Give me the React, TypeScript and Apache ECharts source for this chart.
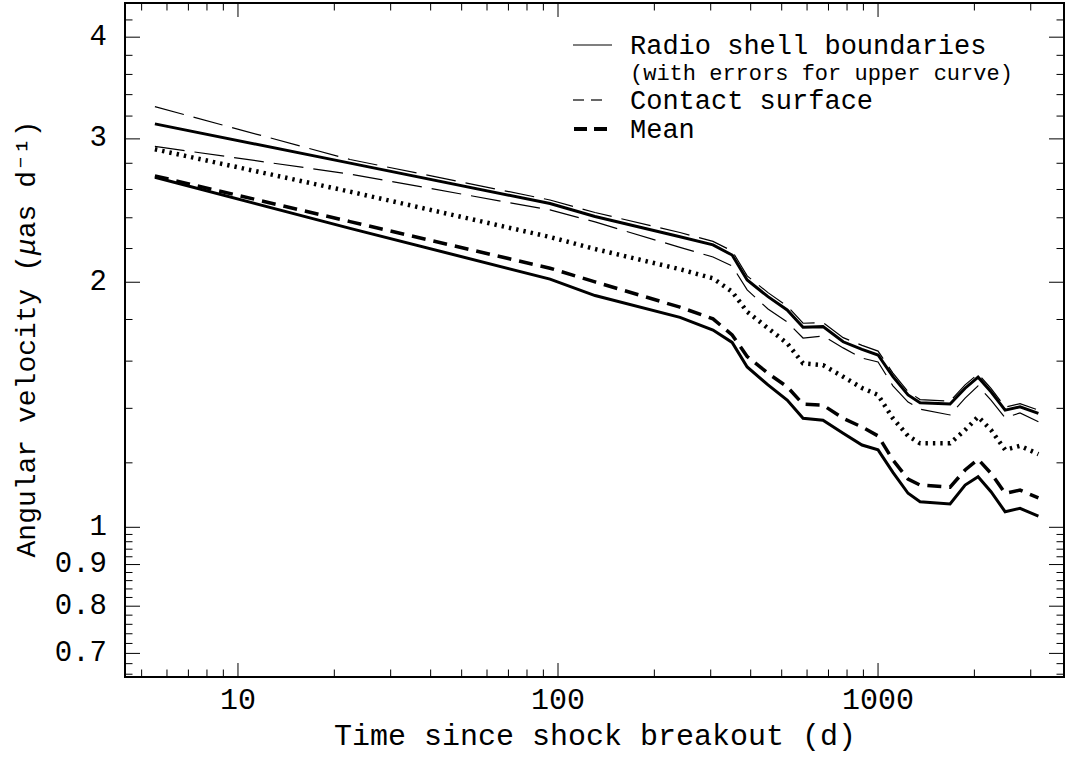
import React, { useEffect, useRef } from 'react';
import * as echarts from 'echarts';

// Time since shock breakout (days)
const DAYS = [5.5, 22.4, 94.4, 130.5, 240.5, 305, 350, 390, 453, 520, 583, 673, 778, 891, 1000, 1113, 1241, 1353, 1679, 1871, 2054, 2254, 2495, 2777, 3170];

// Angular velocity (µas/d)
const OUTER_ERR_HIGH = [3.286, 2.83, 2.524, 2.436, 2.302, 2.245, 2.185, 2.036, 1.942, 1.87, 1.781, 1.784, 1.71, 1.673, 1.646, 1.547, 1.468, 1.435, 1.429, 1.496, 1.543, 1.481, 1.405, 1.419, 1.393];
const OUTER_SHELL = [3.13, 2.801, 2.499, 2.409, 2.275, 2.223, 2.16, 2.013, 1.92, 1.849, 1.761, 1.764, 1.69, 1.654, 1.628, 1.531, 1.454, 1.422, 1.417, 1.482, 1.529, 1.467, 1.393, 1.406, 1.38];
const OUTER_ERR_LOW = [2.937, 2.716, 2.454, 2.372, 2.207, 2.148, 2.094, 1.957, 1.854, 1.787, 1.708, 1.718, 1.661, 1.614, 1.596, 1.492, 1.425, 1.397, 1.374, 1.441, 1.492, 1.433, 1.363, 1.382, 1.348];
const DOTTED_CURVE = [2.913, 2.584, 2.273, 2.197, 2.075, 2.022, 1.947, 1.84, 1.756, 1.683, 1.59, 1.582, 1.531, 1.483, 1.454, 1.361, 1.295, 1.268, 1.268, 1.317, 1.367, 1.317, 1.245, 1.259, 1.23];
const MEAN_CURVE = [2.702, 2.374, 2.081, 2.002, 1.864, 1.803, 1.723, 1.621, 1.546, 1.488, 1.417, 1.413, 1.361, 1.328, 1.295, 1.21, 1.146, 1.127, 1.12, 1.176, 1.212, 1.165, 1.101, 1.111, 1.087];
const INNER_SHELL = [2.692, 2.329, 2.018, 1.926, 1.811, 1.747, 1.687, 1.574, 1.496, 1.433, 1.361, 1.354, 1.305, 1.262, 1.245, 1.168, 1.101, 1.075, 1.068, 1.127, 1.154, 1.106, 1.045, 1.055, 1.032];

// Axis ticks
const X_MAJOR_TICKS = [10, 100, 1000];
const X_MINOR_TICKS = [5, 6, 7, 8, 9, 20, 30, 40, 50, 60, 70, 80, 90, 200, 300, 400, 500, 600, 700, 800, 900, 2000, 3000];
const Y_MAJOR_TICKS = [0.7, 0.8, 0.9, 1, 2, 3, 4];
const Y_MINOR_TICKS = [0.66, 0.68, 0.72, 0.74, 0.76, 0.78, 0.82, 0.84, 0.86, 0.88, 0.92, 0.94, 0.96, 0.98, 1.2, 1.4, 1.6, 1.8, 2.2, 2.4, 2.6, 2.8, 3.2, 3.4, 3.6, 3.8, 4.2];

const X_MIN = 4.436;
const X_MAX = 3811;
const Y_MIN = 0.6548;
const Y_MAX = 4.406;

const FONT = '"Liberation Mono", "DejaVu Sans Mono", monospace';

function pairs(ys: number[]) {
  return DAYS.map((d, i) => [d, ys[i]]);
}

export default function App() {
  const ref = useRef<HTMLDivElement>(null);

  useEffect(() => {
    const chart = echarts.init(ref.current!, null, { renderer: 'svg' });

    const lineSeries = (name: string, ys: number[], width: number, type: any) => ({
      type: 'line',
      name,
      data: pairs(ys),
      showSymbol: false,
      symbol: 'none',
      silent: true,
      z: 3,
      lineStyle: { color: '#000', width, type, cap: 'butt', join: 'miter' },
    });

    const xTickData = [
      ...X_MAJOR_TICKS.map((v) => [v, Y_MIN, 1]),
      ...X_MINOR_TICKS.map((v) => [v, Y_MIN, 0]),
    ];
    const yTickData = [
      ...Y_MAJOR_TICKS.map((v) => [X_MIN, v, 1]),
      ...Y_MINOR_TICKS.map((v) => [X_MIN, v, 0]),
    ];

    const tickStyle = { stroke: '#000', lineWidth: 1 };

    const xTicks = {
      type: 'custom',
      silent: true,
      z: 4,
      data: xTickData,
      encode: { x: 0, y: 1 },
      renderItem: (params: any, api: any) => {
        const p = api.coord([api.value(0), api.value(1)]);
        const cs = params.coordSys;
        const major = api.value(2) === 1;
        const len = major ? 14 : 7.5;
        const bottom = cs.y + cs.height;
        const children: any[] = [
          { type: 'line', shape: { x1: p[0], y1: bottom, x2: p[0], y2: bottom - len }, style: tickStyle },
          { type: 'line', shape: { x1: p[0], y1: cs.y, x2: p[0], y2: cs.y + len }, style: tickStyle },
        ];
        if (major) {
          children.push({
            type: 'text',
            x: p[0],
            y: bottom + 24,
            style: {
              text: String(api.value(0)),
              fill: '#000',
              fontSize: 30,
              fontFamily: FONT,
              align: 'center',
              verticalAlign: 'middle',
            },
          });
        }
        return { type: 'group', children };
      },
    };

    const yTicks = {
      type: 'custom',
      silent: true,
      z: 4,
      data: yTickData,
      encode: { x: 0, y: 1 },
      renderItem: (params: any, api: any) => {
        const p = api.coord([api.value(0), api.value(1)]);
        const cs = params.coordSys;
        const major = api.value(2) === 1;
        const len = major ? 15 : 7.5;
        const right = cs.x + cs.width;
        const children: any[] = [
          { type: 'line', shape: { x1: cs.x, y1: p[1], x2: cs.x + len, y2: p[1] }, style: tickStyle },
          { type: 'line', shape: { x1: right, y1: p[1], x2: right - len, y2: p[1] }, style: tickStyle },
        ];
        if (major) {
          children.push({
            type: 'text',
            x: cs.x - 18,
            y: p[1],
            style: {
              text: String(api.value(1)),
              fill: '#000',
              fontSize: 29,
              fontFamily: FONT,
              align: 'right',
              verticalAlign: 'middle',
            },
          });
        }
        return { type: 'group', children };
      },
    };

    const hiddenAxis = {
      axisLine: { show: false },
      axisTick: { show: false },
      axisLabel: { show: false },
      splitLine: { show: false },
    };

    chart.setOption({
      animation: false,
      backgroundColor: '#fff',
      grid: {
        left: 125,
        right: 5,
        top: 3,
        bottom: 84,
        show: true,
        borderColor: '#000',
        borderWidth: 2,
        backgroundColor: 'transparent',
      },
      xAxis: { type: 'log', logBase: 10, min: X_MIN, max: X_MAX, ...hiddenAxis },
      yAxis: { type: 'log', logBase: 10, min: Y_MIN, max: Y_MAX, ...hiddenAxis },
      series: [
        lineSeries('Outer boundary (upper error)', OUTER_ERR_HIGH, 1.2, [30, 10]),
        lineSeries('Outer shell boundary', OUTER_SHELL, 3, 'solid'),
        lineSeries('Outer boundary (lower error)', OUTER_ERR_LOW, 1.2, [30, 10]),
        lineSeries('Dotted curve', DOTTED_CURVE, 4.5, [2.4, 5]),
        lineSeries('Mean', MEAN_CURVE, 3.5, [14, 8]),
        lineSeries('Inner shell boundary', INNER_SHELL, 3, 'solid'),
        xTicks,
        yTicks,
      ],
      graphic: [
        {
          type: 'text',
          x: 595,
          y: 737,
          style: {
            text: 'Time since shock breakout (d)',
            fill: '#000',
            fontSize: 30,
            fontFamily: FONT,
            align: 'center',
            verticalAlign: 'middle',
          },
        },
        {
          type: 'text',
          x: 27,
          y: 339,
          rotation: Math.PI / 2,
          style: {
            text: 'Angular velocity ({it|μ}as d⁻¹)',
            fill: '#000',
            fontSize: 28,
            fontFamily: FONT,
            align: 'center',
            verticalAlign: 'middle',
            rich: {
              it: { fontStyle: 'italic', fontSize: 28, fontFamily: FONT, fill: '#000' },
            },
          },
        },
        // legend samples
        { type: 'line', shape: { x1: 573, y1: 45, x2: 612, y2: 45 }, style: { stroke: '#000', lineWidth: 1.2 } },
        { type: 'line', shape: { x1: 573, y1: 100, x2: 584, y2: 100 }, style: { stroke: '#000', lineWidth: 1.2 } },
        { type: 'line', shape: { x1: 591, y1: 100, x2: 602, y2: 100 }, style: { stroke: '#000', lineWidth: 1.2 } },
        { type: 'line', shape: { x1: 574, y1: 129, x2: 587, y2: 129 }, style: { stroke: '#000', lineWidth: 4 } },
        { type: 'line', shape: { x1: 594, y1: 129, x2: 607, y2: 129 }, style: { stroke: '#000', lineWidth: 4 } },
        {
          type: 'text',
          x: 630,
          y: 47,
          style: { text: 'Radio shell boundaries', fill: '#000', fontSize: 27, fontFamily: FONT, align: 'left', verticalAlign: 'middle' },
        },
        {
          type: 'text',
          x: 630,
          y: 74,
          style: { text: '(with errors for upper curve)', fill: '#000', fontSize: 22, fontFamily: FONT, align: 'left', verticalAlign: 'middle' },
        },
        {
          type: 'text',
          x: 630,
          y: 102,
          style: { text: 'Contact surface', fill: '#000', fontSize: 27, fontFamily: FONT, align: 'left', verticalAlign: 'middle' },
        },
        {
          type: 'text',
          x: 630,
          y: 131,
          style: { text: 'Mean', fill: '#000', fontSize: 27, fontFamily: FONT, align: 'left', verticalAlign: 'middle' },
        },
      ],
    });

    return () => chart.dispose();
  }, []);

  return (
    <div
      ref={ref}
      style={{ position: 'fixed', left: 0, top: 0, width: 1069, height: 761, background: '#fff' }}
    />
  );
}
